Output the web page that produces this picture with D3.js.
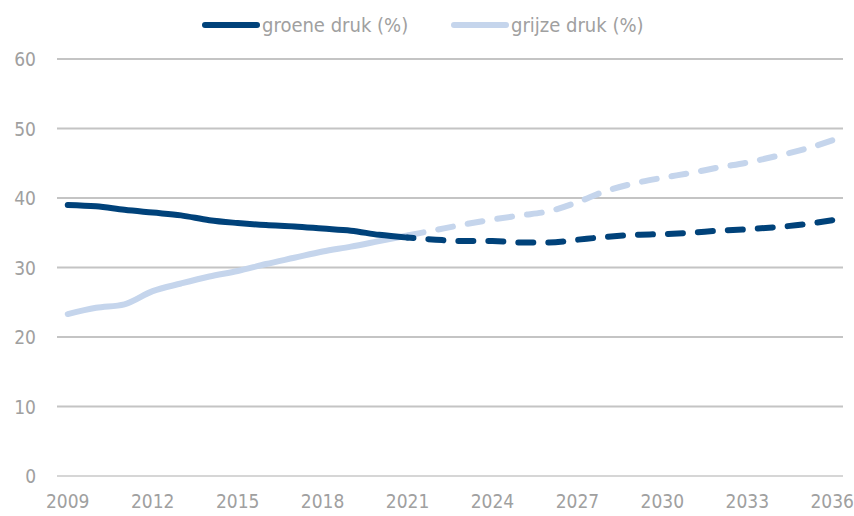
<!DOCTYPE html>
<html>
<head>
<meta charset="utf-8">
<script src="https://cdn.jsdelivr.net/npm/d3@7"></script>
<style>
  body { margin: 0; background: #fff; }
  text { font-family: "DejaVu Sans Condensed", "Liberation Sans Narrow", "Open Sans", sans-serif; }
</style>
</head>
<body>
<div id="chart"></div>
<script>
const years = d3.range(2009, 2037);
const groene = [39.0, 38.8, 38.3, 37.9, 37.5, 36.8, 36.4, 36.1, 35.9, 35.6, 35.3, 34.7, 34.3,
  34.0, 33.8, 33.8, 33.6, 33.6, 34.0, 34.4, 34.7, 34.8, 35.0, 35.3, 35.5, 35.8, 36.2, 36.8];
const grijze = [23.3, 24.2, 24.7, 26.6, 27.7, 28.7, 29.5, 30.5, 31.4, 32.3, 33.0, 33.8, 34.6,
  35.4, 36.2, 36.9, 37.5, 38.1, 39.4, 41.0, 42.1, 42.9, 43.6, 44.4, 45.1, 46.0, 47.0, 48.3];
const yTicks = [0, 10, 20, 30, 40, 50, 60];
const xTicks = [2009, 2012, 2015, 2018, 2021, 2024, 2027, 2030, 2033, 2036];
const lastObserved = 2021;

const W = 854, H = 516;
const LEFT = 57, RIGHT = 843, TOP = 59, BOTTOM = 476;
const DARK = "#00427a", LIGHT = "#c5d5ec", GRID = "#c4c4c4", LABEL = "#a0a0a0";

const svg = d3.select("#chart").append("svg")
  .attr("width", W).attr("height", H);

const x = d3.scalePoint().domain(years).range([LEFT, RIGHT]).padding(0.38);
const y = d3.scaleLinear().domain([0, 60]).range([BOTTOM, TOP]);

// grid
svg.append("g").selectAll("line").data(yTicks).enter().append("line")
  .attr("x1", LEFT).attr("x2", RIGHT)
  .attr("y1", d => y(d)).attr("y2", d => y(d))
  .attr("stroke", d => d === 0 ? "#d6d6d6" : GRID)
  .attr("stroke-width", 2);

// y labels
svg.append("g").selectAll("text").data(yTicks).enter().append("text")
  .attr("x", 36).attr("y", d => y(d) + 7)
  .attr("text-anchor", "end")
  .attr("fill", LABEL).style("font-size", "19px")
  .text(d => d);

// x labels
svg.append("g").selectAll("text").data(xTicks).enter().append("text")
  .attr("x", d => x(d)).attr("y", 508)
  .attr("text-anchor", "middle")
  .attr("fill", LABEL).style("font-size", "19px")
  .text(d => d);

const line = d3.line()
  .x(d => x(d[0])).y(d => y(d[1]))
  .curve(d3.curveMonotoneX);

function drawSeries(values, color) {
  const pts = years.map((yr, i) => [yr, values[i]]);
  const solid = pts.filter(d => d[0] <= lastObserved);
  const dashed = pts.filter(d => d[0] >= lastObserved);
  svg.append("path").datum(solid)
    .attr("d", line).attr("fill", "none")
    .attr("stroke", color).attr("stroke-width", 6)
    .attr("stroke-linecap", "round").attr("stroke-linejoin", "round");
  const p = svg.append("path").datum(dashed)
    .attr("d", line).attr("fill", "none")
    .attr("stroke", color).attr("stroke-width", 6)
    .attr("stroke-linecap", "round")
    .attr("stroke-dasharray", "15,15");
  // let the last dash finish on the final point
  const len = p.node().getTotalLength();
  p.attr("stroke-dashoffset", 15 - (len % 30));
}
drawSeries(grijze, LIGHT);
drawSeries(groene, DARK);

// legend
const legend = [
  { name: "groene druk (%)", color: DARK, x: 205 },
  { name: "grijze druk (%)", color: LIGHT, x: 454 }
];
const lg = svg.append("g").selectAll("g").data(legend).enter().append("g");
lg.append("line")
  .attr("x1", d => d.x).attr("x2", d => d.x + 52)
  .attr("y1", 25).attr("y2", 25)
  .attr("stroke", d => d.color).attr("stroke-width", 6)
  .attr("stroke-linecap", "round");
lg.append("text")
  .attr("x", d => d.x + 57).attr("y", 32)
  .attr("fill", LABEL).style("font-size", "20px")
  .text(d => d.name);
</script>
</body>
</html>
